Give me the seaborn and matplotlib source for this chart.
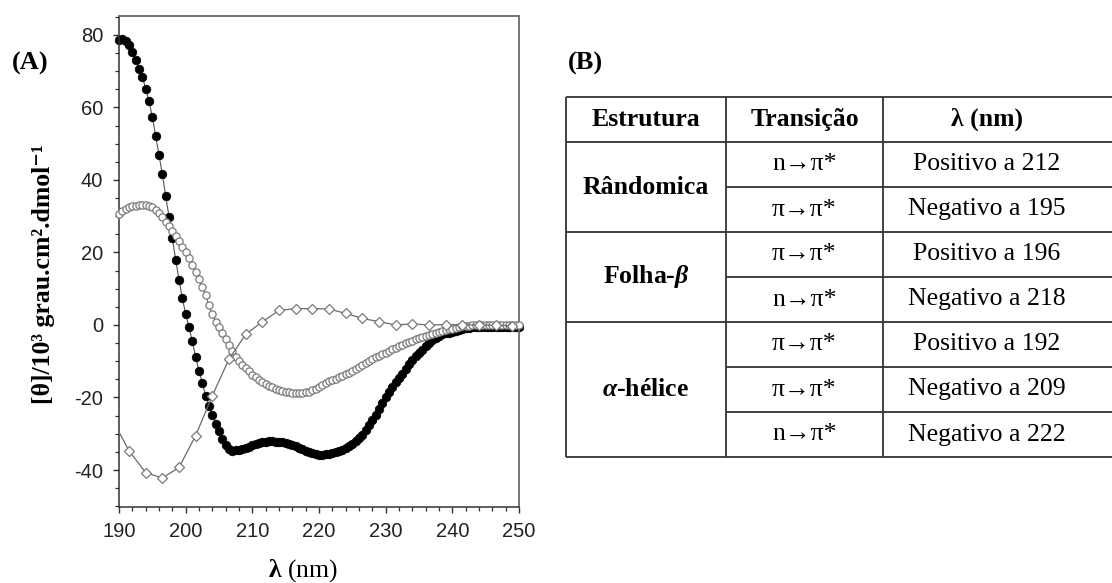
import numpy as np
import matplotlib
matplotlib.use("Agg")
import matplotlib.pyplot as plt
from matplotlib.ticker import MultipleLocator
import seaborn as sns

# ---------------------------------------------------------------
# Far-UV CD spectra of the three reference secondary structures
# ---------------------------------------------------------------
# dense spectra sampled every 0.5 nm from 190 to 250 nm
wavelength = np.arange(190.0, 250.25, 0.5)

# alpha-helix (filled circles)
helix = [
    78.5, 78.9, 78.3, 77.3, 75.3, 73.1, 70.5, 68.4, 65.2, 61.7,            # 190-194.5
    57.4, 52.1, 46.9, 41.5, 35.6, 29.9, 23.9, 18.0, 12.5, 7.3,             # 195-199.5
    3.1, -0.7, -4.5, -8.9, -12.6, -16.1, -19.5, -22.3, -24.9, -27.3,       # 200-204.5
    -29.2, -31.5, -33.2, -34.3, -34.8, -34.6, -34.4, -34.2, -33.9, -33.6,  # 205-209.5
    -33.2, -32.9, -32.6, -32.4, -32.2, -32.1, -32.1, -32.2, -32.3, -32.4,  # 210-214.5
    -32.6, -32.8, -33.1, -33.5, -33.9, -34.3, -34.7, -35.1, -35.4, -35.7,  # 215-219.5
    -35.8, -35.8, -35.7, -35.6, -35.4, -35.1, -34.8, -34.4, -33.9, -33.4,  # 220-224.5
    -32.8, -32.1, -31.3, -30.3, -29.1, -27.7, -26.3, -24.8, -23.2, -21.6,  # 225-229.5
    -20.0, -18.5, -17.1, -15.8, -14.6, -13.4, -12.1, -10.8, -9.6, -8.6,    # 230-234.5
    -7.7, -6.8, -5.9, -5.0, -4.2, -3.5, -3.0, -2.6, -2.3, -2.1,            # 235-239.5
    -1.9, -1.6, -1.3, -1.1, -0.9, -0.8, -0.7, -0.6, -0.5, -0.5,            # 240-244.5
    -0.5, -0.5, -0.5, -0.5, -0.5, -0.6, -0.6, -0.6, -0.7, -0.7,            # 245-249.5
    -0.7,                                                                  # 250
]

# random coil (open circles)
coil = [
    30.5, 31.4, 32.0, 32.4, 32.7, 32.9, 33.0, 33.0, 33.0, 32.9,            # 190-194.5
    32.6, 31.8, 30.9, 29.7, 28.5, 27.2, 26.0, 24.5, 23.1, 21.6,            # 195-199.5
    20.2, 18.4, 16.6, 14.7, 12.6, 10.5, 8.2, 5.4, 3.0, 0.9,                # 200-204.5
    -0.6, -2.1, -3.8, -5.5, -7.3, -8.7, -10.0, -11.0, -11.9, -12.8,        # 205-209.5
    -13.7, -14.4, -15.1, -15.7, -16.2, -16.8, -17.2, -17.6, -17.9, -18.2,  # 210-214.5
    -18.4, -18.6, -18.7, -18.8, -18.8, -18.8, -18.6, -18.4, -18.0, -17.7,  # 215-219.5
    -17.2, -16.5, -15.9, -15.4, -15.1, -14.8, -14.4, -14.0, -13.6, -13.2,  # 220-224.5
    -12.7, -12.2, -11.6, -11.0, -10.4, -9.9, -9.4, -8.9, -8.5, -8.1,       # 225-229.5
    -7.6, -7.2, -6.7, -6.3, -5.9, -5.5, -5.1, -4.7, -4.3, -3.9,            # 230-234.5
    -3.6, -3.3, -3.0, -2.8, -2.6, -2.3, -2.0, -1.7, -1.4, -1.2,            # 235-239.5
    -1.0, -0.8, -0.6, -0.4, -0.3, -0.2, -0.1, 0.0, 0.0, 0.0,               # 240-244.5
    0.0, 0.0, 0.0, 0.0, 0.0, 0.0, 0.0, 0.0, 0.0, 0.0,                      # 245-249.5
    0.0,                                                                   # 250
]

# beta-sheet (open diamonds, every 2.5 nm; the 190 nm point carries no marker)
beta_wavelength = [190.0, 191.5, 194.0, 196.5, 199.0, 201.5, 204.0, 206.5, 209.0,
                   211.5, 214.0, 216.5, 219.0, 221.5, 224.0, 226.5, 229.0, 231.5,
                   234.0, 236.5, 239.0, 241.5, 244.0, 246.5, 249.0]
beta = [-29.5, -34.7, -40.7, -42.2, -39.3, -30.5, -19.5, -9.4, -2.6,
        0.9, 4.0, 4.5, 4.5, 4.4, 3.2, 1.8, 0.9, 0.0,
        0.3, 0.0, 0.1, 0.0, 0.0, -0.1, -0.2]

x_ticks = [190, 200, 210, 220, 230, 240, 250]
y_ticks = [-40, -20, 0, 20, 40, 60, 80]

# ---------------------------------------------------------------
# Table of characteristic transitions
# ---------------------------------------------------------------
table_header = ["Estrutura", "Transição", "λ (nm)"]
structures = ["Rândomica", "Folha-$\\beta$", "$\\alpha$-hélice"]
group_sizes = [2, 2, 3]
transitions = ["n→π*", "π→π*", "π→π*", "n→π*", "π→π*", "π→π*", "n→π*"]
band_sign = ["Positivo", "Negativo", "Positivo", "Negativo",
             "Positivo", "Negativo", "Negativo"]
band_nm = [212, 195, 196, 218, 192, 209, 222]

# ---------------------------------------------------------------
sns.set_style("ticks")
plt.rcParams["font.family"] = ["Liberation Sans", "DejaVu Sans"]
plt.rcParams["axes.unicode_minus"] = False
plt.rcParams["mathtext.fontset"] = "custom"
plt.rcParams["mathtext.rm"] = "Liberation Serif"
plt.rcParams["mathtext.bf"] = "Liberation Serif:bold"
plt.rcParams["mathtext.it"] = "Liberation Serif:italic:bold"

SERIF = ["Liberation Serif", "DejaVu Serif"]
INK = "#222222"

W, H = 1112, 583
fig = plt.figure(figsize=(W / 100, H / 100), dpi=100)
fig.patch.set_facecolor("white")

# ---- panel A : spectra ----
ax = fig.add_axes([119 / W, 1 - 507 / H, 400 / W, 491 / H])

sns.lineplot(x=wavelength, y=helix, ax=ax, color="#555555", lw=0.8,
             marker="o", ms=6.2, mfc="black", mec="black", mew=0.5,
             clip_on=False, zorder=2)
sns.lineplot(x=wavelength, y=coil, ax=ax, color="#666666", lw=0.8,
             marker="o", ms=5.2, mfc="white", mec="#7a7a7a", mew=0.9,
             clip_on=False, zorder=3)
sns.lineplot(x=beta_wavelength, y=beta, ax=ax, color="#6a6a6a", lw=0.9,
             marker="D", ms=5.0, mfc="white", mec="#7a7a7a", mew=0.9,
             markevery=slice(1, None), clip_on=False, zorder=4)

ax.set_xlim(190, 250)
ax.set_ylim(-50.2, 85.2)
ax.set_xticks(x_ticks)
ax.set_yticks(y_ticks)
ax.xaxis.set_minor_locator(MultipleLocator(2))
ax.yaxis.set_minor_locator(MultipleLocator(5))
ax.tick_params(which="major", direction="out", length=4.5, width=1.0,
               color="#333333", labelsize=14.5, labelcolor=INK)
ax.tick_params(axis="y", which="major", pad=7)
ax.tick_params(axis="x", which="major", pad=6)
ax.tick_params(which="minor", direction="out", length=3, width=0.9, color="#333333")
ax.tick_params(top=False, right=False, which="both")
for side, sp in ax.spines.items():
    sp.set_visible(True)
    sp.set_linewidth(1.3 if side in ("top", "right") else 1.1)
    sp.set_color("#6a6a6a" if side in ("top", "right") else "#333333")
ax.set_xlabel("")
ax.set_ylabel("")
ax.grid(False)

fig.text(44 / W, 1 - 274 / H, "[θ]/10³ grau.cm².dmol⁻¹",
         rotation=90, ha="center", va="center", fontsize=18.5,
         fontweight="bold", family=SERIF, color="black")
fig.text(303 / W, 1 - 571 / H, r"$\mathbf{\lambda}$ (nm)",
         ha="center", va="center", fontsize=18.5, family=SERIF, color="black")
fig.text(30 / W, 1 - 63 / H, "(A)", ha="center", va="center",
         fontsize=19, fontweight="bold", family=SERIF, color="black")
fig.text(585 / W, 1 - 63 / H, "(B)", ha="center", va="center",
         fontsize=19, fontweight="bold", family=SERIF, color="black")

# ---- panel B : table ----
tab = fig.add_axes([566 / W, 1 - 457 / H, 546 / W, 360 / H])
n_rows = len(transitions)
tab.set_xlim(0, 546)
tab.set_ylim(n_rows + 1, 0)
tab.axis("off")

col_edges = [0, 160, 317]
col_centers = [80, 238.5, 421]
line_kw = dict(color="#333333", lw=1.3, clip_on=False)

# vertical rules
tab.vlines(col_edges, 0, n_rows + 1, **line_kw)
# outer top + header rule
tab.hlines([0, 1], 0, 546, **line_kw)

# header
for cx, txt in zip(col_centers, table_header):
    tab.text(cx, 0.5, txt, ha="center", va="center", fontsize=18.5,
             fontweight="bold", family=SERIF, color="black")

# body rows
row = 1
for name, size in zip(structures, group_sizes):
    tab.text(col_centers[0], row + size / 2, name, ha="center", va="center",
             fontsize=18.5, fontweight="bold", family=SERIF, color="black")
    for k in range(size):
        r = row + k
        tab.text(col_centers[1], r + 0.5, transitions[r - 1], ha="center",
                 va="center", fontsize=18.5, family=SERIF, color="black")
        tab.text(col_centers[2], r + 0.5, f"{band_sign[r - 1]} a {band_nm[r - 1]}",
                 ha="center", va="center", fontsize=18.5, family=SERIF, color="black")
        if k < size - 1:
            tab.hlines(r + 1, col_edges[1], 546, **line_kw)
    row += size
    tab.hlines(row, 0, 546, **line_kw)

fig.savefig("out.png", dpi=100, facecolor="white")
